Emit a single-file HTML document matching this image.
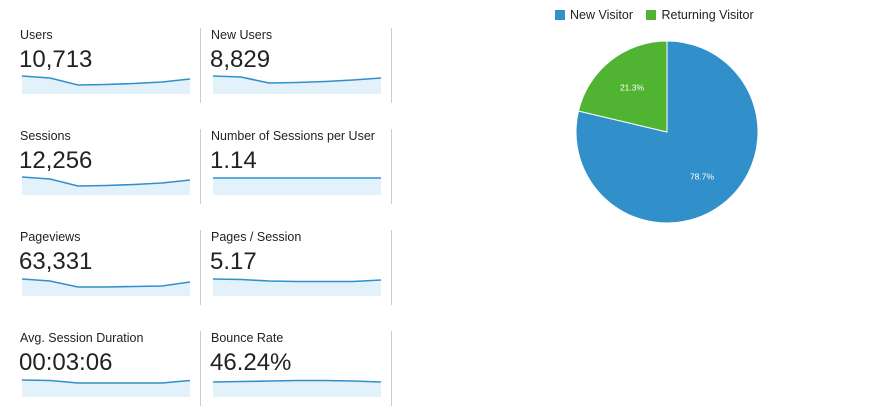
<!DOCTYPE html>
<html><head><meta charset="utf-8"><style>
body{margin:0;width:873px;height:419px;background:#fff;font-family:"Liberation Sans",Arial,sans-serif;overflow:hidden;position:relative}
.lbl{position:absolute;font-size:12.5px;color:#222}
.val{position:absolute;font-size:24px;color:#222}
.div{position:absolute;width:1px;background:#ccc}
</style></head><body>
<div id="cells"></div>
<svg id="spark" width="873" height="419" style="position:absolute;left:0;top:0"></svg>
<div style="position:absolute;left:555px;top:8px;font-size:12.5px;color:#222">
<span><span style="display:inline-block;width:10px;height:10px;background:#3190c9;vertical-align:-1px;margin-right:5px"></span>New Visitor</span>
<span style="margin-left:10px"><span style="display:inline-block;width:10px;height:10px;background:#50b432;vertical-align:-1px;margin-right:5px"></span>Returning Visitor</span>
</div>
<svg id="pie" width="873" height="419" style="position:absolute;left:0;top:0;pointer-events:none"></svg>
<script>
const metricLabels=["Users","New Users","Sessions","Number of Sessions per User","Pageviews","Pages / Session","Avg. Session Duration","Bounce Rate"];
const metricValues=["10,713","8,829","12,256","1.14","63,331","5.17","00:03:06","46.24%"];
// sparkline heights (relative units, 0..18 scale)
const sUsers=[18,16,9,9.5,10.5,12,15];
const sNewUsers=[18,17,11,11.5,12.5,14,16];
const sSessions=[18,16,9,9.5,10.5,12,15];
const sSessPerUser=[17,17,17,17,17,17,17];
const sPageviews=[17,15,9,9,9.5,10,14];
const sPagesSession=[17,16.5,15,14.5,14.5,14.5,16];
const sDuration=[17,16.5,14,14,14,14,16.5];
const sBounce=[15,15.5,16,16.5,16.5,16,15];
const sparkSeries=[sUsers,sNewUsers,sSessions,sSessPerUser,sPageviews,sPagesSession,sDuration,sBounce];
const sparkMax=18;
const pieLabels=["New Visitor","Returning Visitor"];
const pieValues=[78.7,21.3];
const pieColors=["#3190c9","#50b432"];

const cells=document.getElementById('cells');
const svg=document.getElementById('spark');
const NS="http://www.w3.org/2000/svg";
metricLabels.forEach((l,i)=>{
  const col=i%2,row=Math.floor(i/2);
  const x0=col?211:20, oy=row*101;
  const a=document.createElement('div');a.className='lbl';a.style.left=x0+'px';a.style.top=(28+oy)+'px';a.textContent=l;
  
  
  cells.appendChild(a);
  const v=document.createElement('div');v.className='val';v.style.left=(x0-1)+'px';v.style.top=(46+oy)+'px';v.textContent=metricValues[i];
  
  
  cells.appendChild(v);
  const d=document.createElement('div');d.className='div';d.style.left=(col?391:200)+'px';d.style.top=(28+oy)+'px';d.style.height='75px';
  
  
  cells.appendChild(d);
  const data=sparkSeries[i], xs=x0+2, w=168, bottom=94+oy;
  const X=k=>xs+k*w/(data.length-1), Y=v=>bottom-v/sparkMax*18;
  const pts=data.map((v,k)=>X(k).toFixed(1)+','+Y(v).toFixed(1));
  const ar=document.createElementNS(NS,'polygon');
  ar.setAttribute('points',xs+','+bottom+' '+pts.join(' ')+' '+(xs+w)+','+bottom);
  ar.setAttribute('fill','#e3f1fa');
  
  
  svg.appendChild(ar);
  const ln=document.createElementNS(NS,'polyline');
  ln.setAttribute('points',pts.join(' '));ln.setAttribute('fill','none');ln.setAttribute('stroke','#3190c9');ln.setAttribute('stroke-width','1.6');
  
  
  svg.appendChild(ln);
});
const pie=document.getElementById('pie');
const cx=667,cy=132,r=91;
const tot=pieValues.reduce((a,b)=>a+b,0);
let ang=0;
pieValues.forEach((v,i)=>{
  const a0=ang, a1=ang+v/tot*2*Math.PI; ang=a1;
  const p=t=>[cx+r*Math.sin(t),cy-r*Math.cos(t)];
  const [x0,y0]=p(a0),[x1,y1]=p(a1);
  const path=document.createElementNS(NS,'path');
  path.setAttribute('d',`M${cx},${cy}L${x0},${y0}A${r},${r} 0 ${a1-a0>Math.PI?1:0} 1 ${x1},${y1}Z`);
  path.setAttribute('fill',pieColors[i]);path.setAttribute('stroke','#fff');path.setAttribute('stroke-width','1');
  
  
  pie.appendChild(path);
  const m=(a0+a1)/2, lr=r*0.62;
  const t=document.createElementNS(NS,'text');
  t.setAttribute('x',cx+lr*Math.sin(m));t.setAttribute('y',cy-lr*Math.cos(m)+3);
  t.setAttribute('text-anchor','middle');t.setAttribute('font-size','8.5');t.setAttribute('fill','#fff');
  t.setAttribute('font-family','Liberation Sans, sans-serif');
  t.textContent=v.toFixed(1)+'%';
  
  
  pie.appendChild(t);
});
</script>
</body></html>
